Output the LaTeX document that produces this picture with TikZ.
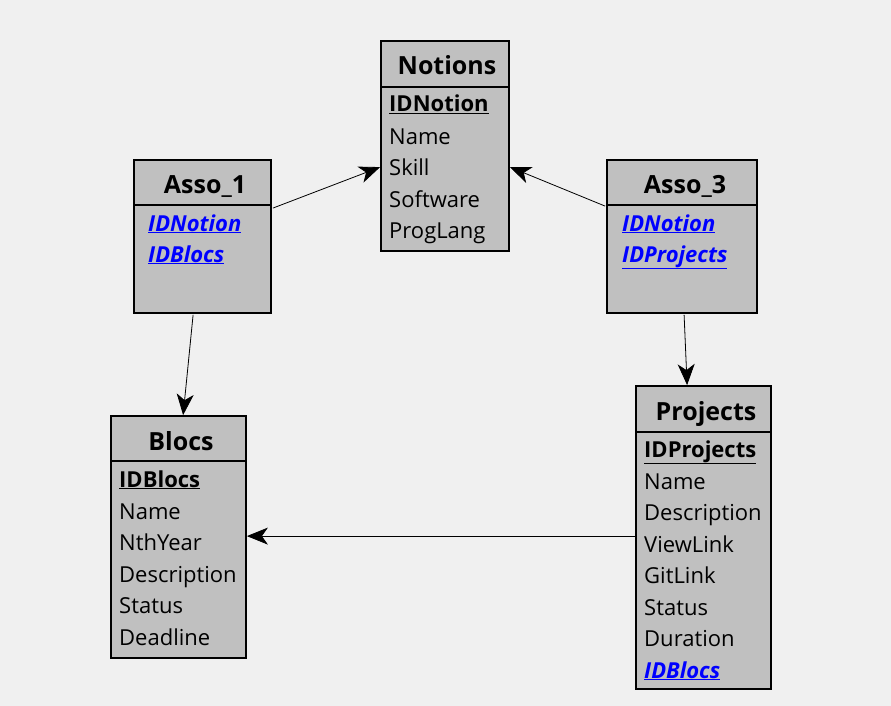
\documentclass[tikz,border=0pt]{standalone}
\usepackage{fontspec}
\setmainfont{Open Sans}
\usetikzlibrary{arrows.meta}
\definecolor{bg}{HTML}{F0F0F0}
\definecolor{tbl}{HTML}{C0C0C0}
\definecolor{fk}{HTML}{0000FF}
\begin{document}
\begin{tikzpicture}[x=1pt,y=-1pt,
  tablebox/.style={draw=black,fill=tbl,line width=1.8pt,inner sep=0pt,minimum width=#1},
  sep/.style={line width=1.8pt},
  title/.style={font=\fontsize{25}{29}\selectfont\bfseries,inner sep=0pt,anchor=base},
  row/.style={font=\fontsize{22}{26}\selectfont,inner sep=0pt,anchor=base west},
  conn/.style={line width=0.8pt,-{Stealth[length=21pt,width=17pt,inset=6pt]}}]
\fill[bg] (0,0) rectangle (891,706);
\useasboundingbox (0,0) rectangle (891,706);
\newcommand\pk[1]{\textbf{\underline{#1}}}
\newcommand\fkey[1]{{\color{fk}\bfseries\itshape\underline{#1}}}

% Notions
\node[tablebox=128pt,minimum height=210pt] (notions) at (445,146) {};
\draw[sep] (381,87) -- (509,87);
\node[title] (tnotions) at (447,75) {Notions};
\node[row] (n1) at (389,112) {\pk{IDNotion}};
\node[row] (n2) at (389,144) {Name};
\node[row] (n3) at (389,175) {Skill};
\node[row] (n4) at (389,207) {Software};
\node[row] (n5) at (389,238) {ProgLang};

% Asso_1
\node[tablebox=137pt,minimum height=153pt] (asso1) at (202.5,236.5) {};
\draw[sep] (134,205) -- (271,205);
\node[title] (tasso1) at (205,193) {Asso\_1};
\node[row] (a11) at (148,231) {\fkey{IDNotion}};
\node[row] (a12) at (148,262) {\fkey{IDBlocs}};

% Asso_3
\node[tablebox=150pt,minimum height=153pt] (asso3) at (682,236.5) {};
\draw[sep] (607,205) -- (757,205);
\node[title] (tasso3) at (685,193) {Asso\_3};
\node[row] (a31) at (622,231) {\fkey{IDNotion}};
\node[row] (a32) at (622,262) {\fkey{IDProjects}};

% Blocs
\node[tablebox=135pt,minimum height=242pt] (blocs) at (178.5,537) {};
\draw[sep] (111,461) -- (246,461);
\node[title] (tblocs) at (181,450) {Blocs};
\node[row] (b1) at (119,487) {\pk{IDBlocs}};
\node[row] (b2) at (119,519) {Name};
\node[row] (b3) at (119,550) {NthYear};
\node[row] (b4) at (119,582) {Description};
\node[row] (b5) at (119,613) {Status};
\node[row] (b6) at (119,645) {Deadline};

% Projects
\node[tablebox=135pt,minimum height=303pt] (projects) at (703.5,537.5) {};
\draw[sep] (636,432) -- (771,432);
\node[title] (tprojects) at (706,420) {Projects};
\node[row] (p1) at (644,457) {\pk{IDProjects}};
\node[row] (p2) at (644,489) {Name};
\node[row] (p3) at (644,520) {Description};
\node[row] (p4) at (644,552) {ViewLink};
\node[row] (p5) at (644,583) {GitLink};
\node[row] (p6) at (644,615) {Status};
\node[row] (p7) at (644,646) {Duration};
\node[row] (p8) at (644,678) {\fkey{IDBlocs}};

% connectors
\draw[conn] ([xshift=1pt,yshift=-49pt]asso1.north east) -- ([yshift=-127pt]notions.north west);
\draw[conn] ([xshift=-1pt,yshift=-47pt]asso3.north west) -- ([yshift=-127pt]notions.north east);
\draw[conn] ([xshift=60pt,yshift=-1pt]asso1.south west) -- ([xshift=73pt]blocs.north west);
\draw[conn] ([xshift=78pt,yshift=-1pt]asso3.south west) -- ([xshift=52pt]projects.north west);
\draw[conn] ([yshift=-151pt]projects.north west) -- ([yshift=-121pt]blocs.north east);
\end{tikzpicture}
\end{document}
